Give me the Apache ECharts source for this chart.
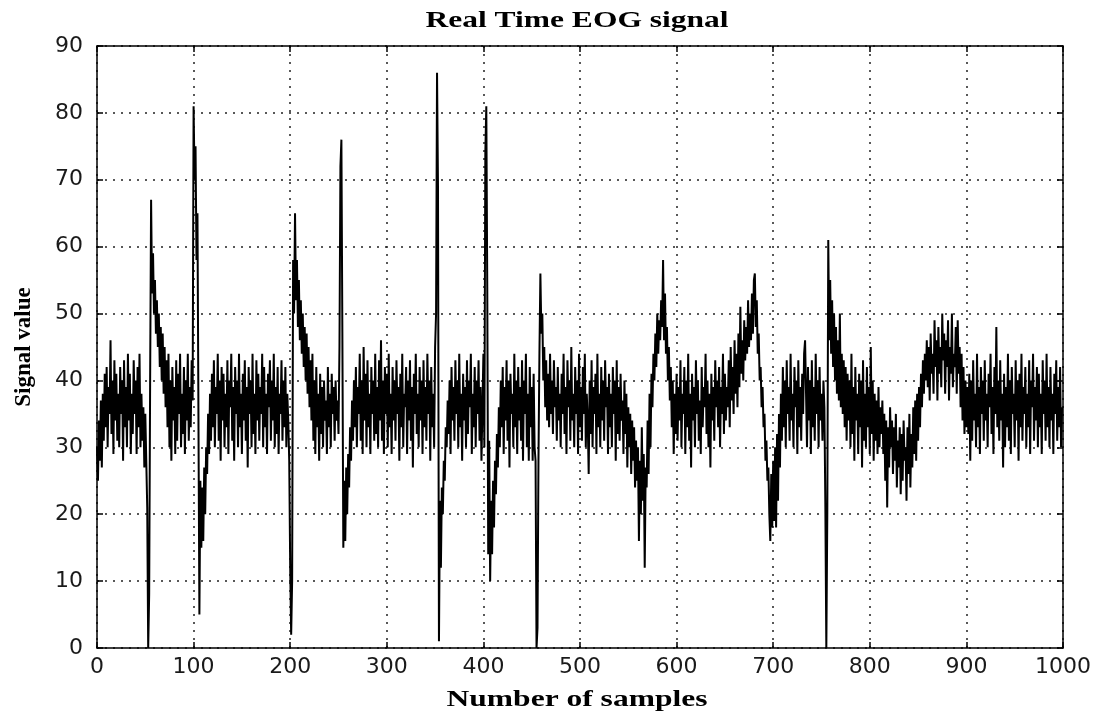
<!DOCTYPE html>
<html>
<head>
<meta charset="utf-8">
<title>Real Time EOG signal</title>
<script src="https://cdn.jsdelivr.net/npm/echarts@6/dist/echarts.min.js"></script>
<style>
  html, body { margin: 0; padding: 0; background: #fff; }
  #chart { width: 1099px; height: 718px; }
</style>
</head>
<body>
<div id="chart"></div>
<script>
// signal values, 100 samples per block
const seg0 = [30,25,34,28,37,27,38,31,41,33, 42,30,39,35,46,32,40,29,43,34, 41,31,38,30,42,35,40,28,43,33, 39,30,44,34,41,29,38,32,43,35,
  40,29,42,33,44,30,38,31,36,27, 35,28,21,0,8,40,67,53,59,50, 55,47,52,45,50,42,48,40,47,38, 45,36,43,33,44,30,40,28,42,34,
  39,29,43,31,41,35,44,30,38,32, 42,29,40,34,44,31,39,33,43,37];
const seg1 = [81,70,75,58,65,35,5,25,15,24, 16,27,20,30,26,35,29,38,31,41, 33,43,30,39,35,44,31,40,28,42, 34,41,30,38,33,43,29,40,36,44,
  31,39,28,42,35,40,30,44,33,38, 29,41,34,43,31,39,27,42,35,40, 30,44,32,38,29,43,34,41,31,39, 35,44,30,42,33,38,29,41,36,43,
  31,40,34,44,30,39,32,42,29,38, 35,43,31,40,33,42,30,38,34,28];
const seg2 = [12,2,10,58,50,65,52,58,48,55, 46,52,44,50,42,48,40,47,38,45, 36,43,34,44,31,40,29,42,33,38, 28,41,32,39,30,40,34,37,29,42,
  33,38,30,41,35,39,31,40,34,37, 32,45,72,76,47,15,25,16,27,20, 29,24,33,28,37,31,40,33,42,30, 39,35,44,31,40,29,45,34,41,30,
  43,33,38,29,42,35,40,31,44,32, 39,30,43,34,46,31,40,29,42,35];
const seg3 = [41,30,44,33,38,29,42,34,40,31, 43,35,39,28,41,33,44,30,38,36, 42,29,40,34,43,31,39,27,41,35, 44,32,38,30,42,34,40,29,43,33,
  39,31,44,35,40,28,42,33,38,30, 45,50,86,69,1,22,12,24,20,28, 25,33,30,37,32,40,29,42,34,39, 31,43,35,40,30,44,33,38,28,41,
  34,39,30,43,32,40,36,44,29,38, 33,42,30,40,35,43,31,39,28,36];
const seg4 = [44,30,74,81,54,14,31,10,22,14, 25,18,28,23,32,27,36,30,40,33, 42,29,39,34,43,31,40,27,41,35, 38,30,44,33,40,29,42,34,39,31,
  43,28,40,35,44,30,38,28,42,33, 39,28,41,30,28,0,3,28,44,56, 47,50,40,45,36,43,34,41,33,44, 35,40,32,43,36,39,31,42,34,38,
  30,41,35,44,32,39,29,43,36,40, 31,45,34,38,30,42,35,40,29,44];
const seg5 = [33,39,31,42,35,44,30,38,34,26, 40,32,43,30,39,35,41,29,44,33, 38,30,42,34,40,31,43,36,39,29, 41,33,38,30,42,35,40,28,43,32,
  39,31,41,34,37,29,40,32,38,27, 36,30,35,26,34,28,33,24,31,25, 30,16,28,20,33,22,29,12,27,24, 34,26,38,30,41,36,44,40,47,42,
  50,44,49,46,52,48,58,46,53,44, 48,40,45,37,42,33,40,29,38,32];
const seg6 = [41,31,39,34,43,30,38,35,42,29, 40,33,44,31,38,27,41,34,39,30, 43,35,40,31,37,29,42,33,39,36, 44,32,40,30,38,27,41,34,39,31,
  43,36,40,33,42,30,39,35,44,32, 41,34,39,36,43,33,45,37,42,35, 46,38,44,36,47,39,51,41,46,40, 49,43,48,44,52,45,50,46,53,47,
  55,56,48,52,44,47,40,42,36,39, 33,35,28,31,25,27,20,16,26,18];
const seg7 = [28,19,30,18,32,22,35,27,38,31, 42,33,40,30,43,35,39,31,44,34, 38,30,42,36,40,29,43,33,39,31, 41,35,44,46,38,30,42,34,40,29,
  43,33,39,31,44,35,40,30,42,34, 38,31,40,36,21,0,20,61,46,55, 44,52,42,50,40,48,38,46,37,50, 36,44,35,43,33,42,31,41,34,40,
  30,44,32,39,28,42,34,38,29,41, 33,40,27,43,31,38,30,42,33,39];
const seg8 = [29,45,32,40,28,38,31,37,29,39, 30,36,32,37,29,35,25,34,21,33, 27,36,30,34,26,33,28,35,24,31, 27,33,23,32,25,34,28,30,22,33,
  26,35,24,32,27,36,29,37,28,38, 31,39,33,41,36,43,38,44,40,46, 39,45,37,47,41,44,38,49,42,46, 37,48,41,45,39,50,43,47,38,46,
  42,49,37,45,41,50,39,44,42,48, 38,49,41,45,36,44,34,42,32,40];
const seg9 = [33,39,32,41,28,40,31,43,34,38, 30,44,33,39,29,42,35,40,31,43, 34,38,30,41,36,44,32,39,29,42, 35,48,33,40,31,43,34,38,27,41,
  30,39,33,44,31,40,29,42,35,38, 30,43,34,40,28,41,33,44,31,39, 35,42,30,38,33,43,29,40,36,44, 31,39,34,42,30,41,33,38,29,43,
  35,40,31,44,33,39,30,42,34,38, 29,41,35,43,31,39,33,42,30,36];

const xTicks = { min: 0, max: 1000, interval: 100 };
const yTicks = { min: 0, max: 90, interval: 10 };

const titleText = 'Real Time EOG signal';
const xName = 'Number of samples';
const yName = 'Signal value';

const signal = [].concat(seg0, seg1, seg2, seg3, seg4, seg5, seg6, seg7, seg8, seg9);
const points = signal.map((v, i) => [i, v]);

const chart = echarts.init(document.getElementById('chart'), null, { renderer: 'canvas' });

const labelFont = { fontFamily: 'DejaVu Sans', fontSize: 22, color: '#1a1a1a', formatter: (v) => String(v) };
const dotted = { show: true, lineStyle: { color: '#222', width: 1.5, type: [2, 6] } };
const frameLine = { show: true, onZero: false, lineStyle: { color: '#000', width: 1.5 } };
const innerTick = { show: true, inside: true, length: 6, lineStyle: { color: '#000', width: 1.5 } };

chart.setOption({
  animation: false,
  backgroundColor: '#fff',
  grid: { left: 97, right: 36, top: 46, bottom: 70 },
  xAxis: [
    {
      type: 'value', position: 'bottom', min: xTicks.min, max: xTicks.max, interval: xTicks.interval,
      axisLine: frameLine, axisTick: innerTick,
      axisLabel: Object.assign({ margin: 8 }, labelFont),
      splitLine: dotted
    },
    {
      type: 'value', position: 'top', min: xTicks.min, max: xTicks.max, interval: xTicks.interval,
      axisLine: frameLine, axisTick: innerTick, axisLabel: { show: false }, splitLine: { show: false }
    }
  ],
  yAxis: [
    {
      type: 'value', position: 'left', min: yTicks.min, max: yTicks.max, interval: yTicks.interval,
      name: yName, nameLocation: 'middle', nameRotate: 90, nameGap: 61,
      nameTextStyle: { fontFamily: 'Liberation Serif', fontWeight: 'bold', fontSize: 23, color: '#000' },
      axisLine: frameLine, axisTick: innerTick,
      axisLabel: Object.assign({ margin: 14 }, labelFont),
      splitLine: dotted
    },
    {
      type: 'value', position: 'right', min: yTicks.min, max: yTicks.max, interval: yTicks.interval,
      axisLine: frameLine, axisTick: innerTick, axisLabel: { show: false }, splitLine: { show: false }
    }
  ],
  graphic: [
    {
      type: 'text', x: 577, y: 21, scaleX: 1.37,
      style: { text: titleText, font: 'bold 23px "Liberation Serif"', fill: '#000', textAlign: 'center', textVerticalAlign: 'middle' }
    },
    {
      type: 'text', x: 577, y: 700, scaleX: 1.37,
      style: { text: xName, font: 'bold 23px "Liberation Serif"', fill: '#000', textAlign: 'center', textVerticalAlign: 'middle' }
    }
  ],
  series: [
    {
      type: 'line', xAxisIndex: 0, yAxisIndex: 0, data: points,
      showSymbol: false, symbol: 'none',
      lineStyle: { color: '#000', width: 2 },
      z: 3
    }
  ]
});
</script>
</body>
</html>
